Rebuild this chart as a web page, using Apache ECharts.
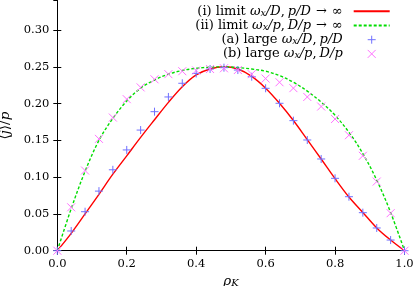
<!DOCTYPE html>
<html><head><meta charset="utf-8">
<script src="https://cdn.jsdelivr.net/npm/echarts@6/dist/echarts.min.js"></script>
<style>html,body{margin:0;padding:0;background:#fff}#c{width:415px;height:286px}</style>
</head><body><div id="c"></div>
<script>
// rho_K sample positions
const xs = [0,0.04,0.08,0.12,0.16,0.20,0.24,0.28,0.32,0.36,0.40,0.44,0.48,0.52,0.56,0.60,0.64,0.68,0.72,0.76,0.80,0.84,0.88,0.92,0.96,1.00];
// (i) limit curve (red, solid)
const curveI = [0,0.0236,0.050,0.0767,0.104,0.129,0.154,0.178,0.2017,0.223,0.239,0.247,0.250,0.247,0.237,0.221,0.2005,0.177,0.151,0.1247,0.098,0.073,0.052,0.031,0.0145,0];
// (ii) limit curve (green, dashed)
const curveII = [0,0.057,0.108,0.150,0.180,0.2035,0.221,0.232,0.240,0.245,0.248,0.2495,0.250,0.249,0.247,0.244,0.238,0.229,0.217,0.202,0.184,0.161,0.132,0.096,0.052,0];
// (a) simulation points (blue +)
const simA = [0,0.0268,0.053,0.081,0.110,0.137,0.164,0.189,0.209,0.2276,0.241,0.247,0.2488,0.2456,0.2365,0.2208,0.2004,0.1768,0.1505,0.1247,0.0984,0.0734,0.0517,0.0309,0.0145,0];
// (b) simulation points (magenta x)
const simB = [0,0.059,0.109,0.152,0.181,0.206,0.222,0.233,0.240,0.244,0.245,0.247,0.248,0.2456,0.240,0.234,0.229,0.221,0.209,0.196,0.179,0.157,0.129,0.094,0.051,0];
const yTicks = [0,0.05,0.10,0.15,0.20,0.25,0.30];

const pairs = a => xs.map((x,i)=>[x,a[i]]);
const FF = '"DejaVu Serif", "Liberation Serif", serif';
const FS = 11.5;
const LFS = 13;
const rich = {
  t:{fontFamily:FF,fontSize:13.5,color:'#000'},
  m:{fontFamily:FF,fontSize:13.5,fontStyle:'italic',color:'#000'},
  s:{fontFamily:FF,fontSize:10,fontStyle:'italic',color:'#000',verticalAlign:'bottom',lineHeight:9}
};
const lrich = {
  t:{fontFamily:FF,fontSize:LFS,color:'#000'},
  m:{fontFamily:FF,fontSize:LFS,fontStyle:'italic',color:'#000'},
  s:{fontFamily:FF,fontSize:9.5,fontStyle:'italic',color:'#000',verticalAlign:'bottom',lineHeight:9},
  sp:{fontFamily:FF,fontSize:LFS,width:3},
  sa:{fontFamily:FF,fontSize:LFS,width:5},
  g:{fontFamily:FF,fontSize:LFS,width:6}
};
const legendText = {
  i:'{t|(i) limit }{m|ω}{s|x}{m|/D}{t|,}{sp| }{m|p/D}{sa| }{t|→}{sa| }{t|∞}{g| }',
  ii:'{t|(ii) limit }{m|ω}{s|x}{m|/p}{t|,}{sp| }{m|D/p}{sa| }{t|→}{sa| }{t|∞}{g| }',
  a:'{t|(a) large }{m|ω}{s|x}{m|/D}{t|,}{sp| }{m|p/D}{g| }',
  b:'{t|(b) large }{m|ω}{s|x}{m|/p}{t|,}{sp| }{m|D/p}{g| }'
};
const axisCommon = {
  axisLine:{show:true,lineStyle:{color:'#000',width:1}},
  axisTick:{show:true,inside:true,length:4,lineStyle:{color:'#000',width:1}},
  splitLine:{show:false}
};
const chart = echarts.init(document.getElementById('c'),null,{renderer:'canvas'});
chart.setOption({
  animation:false,
  grid:{left:57.3,right:10.5,top:0.6,bottom:35.3,outerBoundsMode:'none',containLabel:false},
  legend:{
    orient:'vertical',right:24.3,top:4.2,align:'right',padding:0,
    itemWidth:36,itemHeight:8,itemGap:0,
    textStyle:{fontFamily:FF,fontSize:LFS,lineHeight:14.2,color:'#000',rich:lrich},
    formatter:n=>legendText[n],
    data:[
      {name:'i',itemStyle:{borderWidth:0}},
      {name:'ii',itemStyle:{borderWidth:0}},
      {name:'a',itemStyle:{borderWidth:1}},
      {name:'b',itemStyle:{borderWidth:1}}
    ]
  },
  xAxis:[
    Object.assign({type:'value',min:0,max:1,interval:0.2,position:'bottom',
      name:'{m|ρ}{s|K}',nameLocation:'middle',nameGap:23,
      nameTextStyle:{rich:rich},
      axisLabel:{fontFamily:FF,fontSize:FS,color:'#000',margin:7,formatter:v=>v.toFixed(1)}},axisCommon),
    Object.assign({type:'value',min:0,max:1,interval:0.2,position:'top',axisLabel:{show:false}},axisCommon)
  ],
  yAxis:[
    Object.assign({type:'value',min:0,max:0.34,interval:0.05,position:'left',
      name:'{t|⟨}{m|j}{t|⟩/}{m|p}',nameLocation:'middle',nameGap:37,
      nameTextStyle:{rich:rich},
      axisLabel:{fontFamily:FF,fontSize:FS,color:'#000',margin:8,showMaxLabel:false,
        formatter:v=>yTicks.some(t=>Math.abs(t-v)<1e-9)?v.toFixed(2):''}},axisCommon),
    Object.assign({type:'value',min:0,max:0.34,interval:0.05,position:'right',axisLabel:{show:false}},axisCommon)
  ],
  series:[
    {name:'i',type:'line',data:pairs(curveI),symbol:'path://M0,0L1,1',showSymbol:false,smooth:0.35,
      lineStyle:{color:'#ff0000',width:1.4},itemStyle:{color:'#ff0000',borderWidth:0},z:2},
    {name:'ii',type:'line',data:pairs(curveII),symbol:'path://M0,0L1,1',showSymbol:false,smooth:0.35,
      lineStyle:{color:'#00dd00',width:1.4,type:[3,2]},itemStyle:{color:'#00dd00',borderWidth:0},z:3},
    {name:'a',type:'scatter',data:pairs(simA),symbol:'path://M5,0L5,10M0,5L10,5',symbolSize:8,symbolKeepAspect:true,
      itemStyle:{color:'rgba(0,0,0,0)',borderColor:'#7070ff',borderWidth:1,opacity:1},z:4},
    {name:'b',type:'scatter',data:pairs(simB),symbol:'path://M0,0L10,10M10,0L0,10',symbolSize:8,symbolKeepAspect:true,
      itemStyle:{color:'rgba(0,0,0,0)',borderColor:'#ff70ff',borderWidth:1,opacity:1},z:5}
  ]
});
</script></body></html>
